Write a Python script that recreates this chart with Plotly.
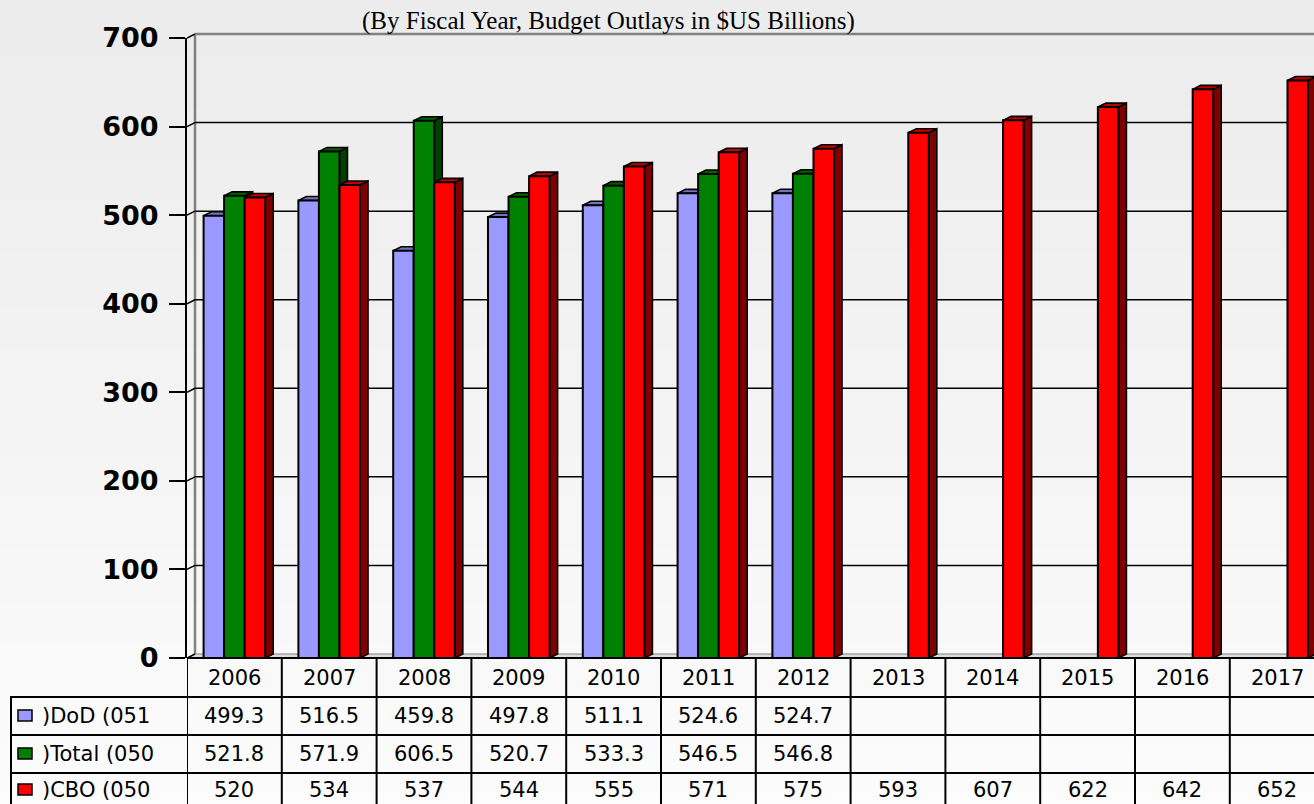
import plotly.graph_objects as go

years = ["2006", "2007", "2008", "2009", "2010", "2011", "2012",
         "2013", "2014", "2015", "2016", "2017"]
dod = [499.3, 516.5, 459.8, 497.8, 511.1, 524.6, 524.7, None, None, None, None, None]
total = [521.8, 571.9, 606.5, 520.7, 533.3, 546.5, 546.8, None, None, None, None, None]
cbo = [520, 534, 537, 544, 555, 571, 575, 593, 607, 622, 642, 652]
row_labels = [")DoD (051", ")Total (050", ")CBO (050"]
y_ticks = [0, 100, 200, 300, 400, 500, 600, 700]

W, H = 1314, 804
COL_W = 94.8
X_LEFT = 187
Y0_PX, Y700_PX = 658, 38

front = ["#9999FF", "#008000", "#FF0000"]
side = ["#4d4d80", "#004000", "#800000"]
top = ["#7373bf", "#006000", "#c00000"]

series = [dod, total, cbo]


def py(px):
    return 1 - px / H


def yv_paper(v):
    return py(Y0_PX - v * (Y0_PX - Y700_PX) / 700)


dx = 8 / COL_W
dy = 4 * 700 / (Y0_PX - Y700_PX)
x_end = -0.5 + (W - X_LEFT) / COL_W
bw = 0.65 / 3

fig = go.Figure()
for k, (name, vals) in enumerate(zip(row_labels, series)):
    fig.add_trace(go.Bar(
        x=list(range(len(years))), y=vals, name=name,
        marker=dict(color=front[k], line=dict(color="black", width=2)),
        showlegend=False, hoverinfo="skip",
    ))

shapes = []
# gradient background
n = 60
for i in range(n):
    c = int(236 + (252 - 236) * i / (n - 1))
    shapes.append(dict(type="rect", xref="paper", yref="paper", layer="below",
                       x0=0, x1=1, y0=1 - i / n, y1=1 - (i + 1) / n - 0.002,
                       fillcolor=f"rgb({c},{c},{c})", line=dict(width=0)))

# floor
shapes.append(dict(type="path", xref="x", yref="paper", layer="below",
                   path=f"M -0.5,{yv_paper(0)} L {-0.5 + dx},{yv_paper(dy)} "
                        f"L {x_end + 1},{yv_paper(dy)} L {x_end + 1},{yv_paper(0)} Z",
                   fillcolor="#dcdcdc", line=dict(color="#808080", width=1)))
# back wall
shapes.append(dict(type="line", xref="x", yref="paper", layer="below",
                   x0=-0.5 + dx, x1=-0.5 + dx, y0=yv_paper(dy), y1=yv_paper(700 + dy),
                   line=dict(color="#808080", width=2.5)))
shapes.append(dict(type="line", xref="x", yref="paper", layer="below",
                   x0=-0.5 + dx, x1=x_end + 1, y0=yv_paper(700 + dy), y1=yv_paper(700 + dy),
                   line=dict(color="#808080", width=2.5)))
for v in y_ticks:
    shapes.append(dict(type="line", xref="x", yref="paper", layer="below",
                       x0=-0.5, x1=-0.5 + dx, y0=yv_paper(v), y1=yv_paper(v + dy),
                       line=dict(color="black", width=1.5)))
    if 0 < v < 700:
        shapes.append(dict(type="line", xref="x", yref="paper", layer="below",
                           x0=-0.5 + dx, x1=x_end + 1, y0=yv_paper(v + dy), y1=yv_paper(v + dy),
                           line=dict(color="black", width=1.5)))

# 3D faces of bars
for i in range(len(years)):
    for k, vals in enumerate(series):
        v = vals[i]
        if v is None:
            continue
        x0 = i - 0.325 + k * bw
        x1 = x0 + bw
        shapes.append(dict(type="path", xref="x", yref="y", layer="below",
                           path=f"M {x1},0 L {x1 + dx},{dy} L {x1 + dx},{v + dy} L {x1},{v} Z",
                           fillcolor=side[k], line=dict(color="black", width=1.6)))
        shapes.append(dict(type="path", xref="x", yref="y", layer="below",
                           path=f"M {x0},{v} L {x0 + dx},{v + dy} L {x1 + dx},{v + dy} L {x1},{v} Z",
                           fillcolor=top[k], line=dict(color="black", width=1.6)))

# data table grid
row_px = [658, 697, 735, 773]
line_k = dict(color="black", width=2)
for r in row_px:
    shapes.append(dict(type="line", xref="x", yref="paper", x0=-0.5, x1=x_end + 1,
                       y0=py(r), y1=py(r), line=line_k))
for r in row_px[1:]:
    shapes.append(dict(type="line", xref="paper", yref="paper", x0=10 / W, x1=X_LEFT / W,
                       y0=py(r), y1=py(r), line=line_k))
shapes.append(dict(type="line", xref="paper", yref="paper", x0=11 / W, x1=11 / W,
                   y0=py(697), y1=0, line=line_k))
for i in range(len(years) + 1):
    shapes.append(dict(type="line", xref="x", yref="paper", x0=i - 0.5, x1=i - 0.5,
                       y0=py(658), y1=0, line=line_k))

annotations = [dict(text="(By Fiscal Year, Budget Outlays in $US Billions)",
                    xref="paper", yref="paper", x=608 / W, y=py(21),
                    xanchor="center", yanchor="middle", showarrow=False,
                    font=dict(family="Liberation Serif", size=25, color="black"))]
tfont = dict(family="DejaVu Sans", size=21, color="black")
row_mid = [678, 716, 754, 790]
for i, yr in enumerate(years):
    annotations.append(dict(text=yr, x=i, y=py(row_mid[0]), xref="x", yref="paper",
                            xanchor="center", yanchor="middle", showarrow=False, font=tfont))
    for k, vals in enumerate(series):
        v = vals[i]
        if v is None:
            continue
        annotations.append(dict(text=str(v), x=i, y=py(row_mid[k + 1]), xref="x",
                                yref="paper", xanchor="center", yanchor="middle",
                                showarrow=False, font=tfont))
for k, lab in enumerate(row_labels):
    yc = row_mid[k + 1]
    shapes.append(dict(type="rect", xref="paper", yref="paper",
                       x0=18 / W, x1=32 / W, y0=py(yc - 6), y1=py(yc + 5),
                       fillcolor=front[k], line=dict(color="black", width=1.5)))
    annotations.append(dict(text=lab, x=40 / W, y=py(yc), xref="paper", yref="paper",
                            xanchor="left", yanchor="middle", showarrow=False, font=tfont))

fig.update_layout(
    width=W, height=H, autosize=False,
    margin=dict(l=0, r=0, t=0, b=0, pad=0, autoexpand=False),
    paper_bgcolor="#f4f4f4", plot_bgcolor="rgba(0,0,0,0)",
    barmode="group", bargap=0.35, bargroupgap=0,
    shapes=shapes, annotations=annotations,
    xaxis=dict(domain=[X_LEFT / W, 1], range=[-0.5, x_end], showticklabels=False,
               showgrid=False, zeroline=False, fixedrange=True, automargin=False),
    yaxis=dict(domain=[py(Y0_PX), py(Y700_PX)], range=[0, 700], tickvals=y_ticks,
               showgrid=False, zeroline=False, showline=True, linecolor="black", linewidth=2,
               ticks="outside", ticklen=16, tickwidth=1.5, tickcolor="black",
               ticklabelstandoff=5, automargin=False, fixedrange=True,
               tickfont=dict(family="DejaVu Sans", size=27, color="black", weight="bold")),
)

# keep the page exactly the size of the figure (no body margin)
page_fix = (
    "document.body.style.margin='0';"
    "document.body.style.overflow='hidden';"
    "var g=document.getElementById('{plot_id}');"
    "g.style.position='absolute';g.style.left='0px';g.style.top='0px';"
)
fig.write_html("out.html", post_script=page_fix, config={"displayModeBar": False})
